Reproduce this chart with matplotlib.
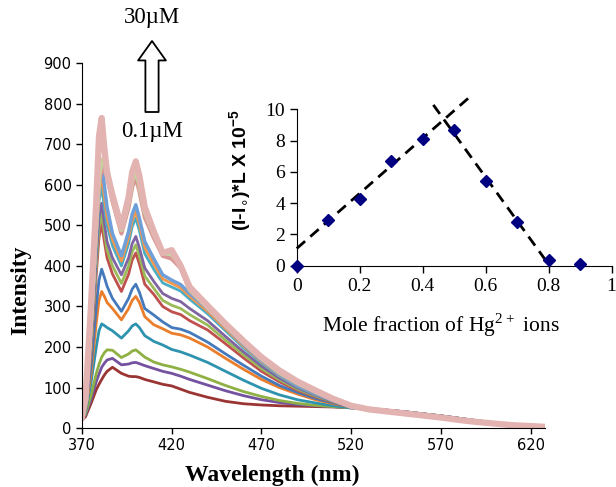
import numpy as np
import matplotlib
matplotlib.use('Agg')
import matplotlib.pyplot as plt

# emission spectra (bottom curve first)
wl = [370, 372, 375, 378, 379.5, 381, 382.5, 384, 387, 392,
      396, 398, 400, 402, 405, 410, 415, 420, 425, 430,
      440, 450, 460, 470, 480, 490, 500, 510, 520]
tail_wl = [530, 540, 550, 560, 570, 580, 590, 600, 610, 620, 628]
tail_low = [48, 44, 40, 35, 30, 24, 18, 13, 9, 6, 4]
tail_high = [46, 41, 36, 31, 26, 20, 15, 11, 7, 5, 3]

spec_01 = [20, 28, 60, 95, 108, 120, 131, 140, 150, 135,
           128, 127, 127, 125, 120, 114, 108, 104, 96, 88,
           76, 66, 60, 57, 55, 54, 53, 52, 50]
spec_02 = [22, 32, 70, 115, 133, 150, 160, 168, 172, 156,
           158, 161, 162, 159, 154, 147, 140, 135, 128, 120,
           106, 92, 80, 70, 63, 58, 55, 53, 50]
spec_03 = [22, 35, 80, 135, 157, 175, 186, 193, 192, 174,
           183, 190, 193, 186, 175, 163, 156, 151, 145, 138,
           122, 105, 90, 78, 68, 61, 56, 53, 50]
spec_04 = [24, 40, 110, 200, 240, 257, 253, 248, 240, 222,
           240, 252, 257, 248, 228, 214, 205, 194, 188, 180,
           162, 140, 118, 98, 82, 70, 62, 55, 50]
spec_05 = [25, 45, 130, 260, 315, 337, 325, 310, 295, 267,
           295, 315, 325, 310, 275, 255, 245, 234, 230, 222,
           200, 172, 145, 120, 100, 84, 70, 60, 52]
spec_06 = [25, 48, 150, 300, 365, 392, 372, 350, 320, 288,
           320, 343, 355, 335, 295, 279, 262, 248, 244, 236,
           212, 183, 155, 128, 105, 88, 73, 62, 52]
spec_07 = [26, 55, 180, 380, 470, 505, 460, 420, 380, 337,
           380, 415, 432, 405, 355, 330, 300, 287, 280, 265,
           242, 208, 173, 140, 114, 93, 77, 64, 53]
spec_08 = [26, 58, 190, 400, 495, 530, 482, 440, 400, 357,
           400, 435, 452, 425, 375, 345, 315, 303, 295, 280,
           254, 217, 181, 147, 119, 96, 79, 65, 53]
spec_09 = [27, 60, 200, 420, 518, 555, 505, 460, 420, 378,
           420, 455, 473, 445, 395, 362, 332, 320, 312, 295,
           265, 226, 188, 153, 123, 99, 81, 66, 53]
spec_10 = [27, 62, 220, 450, 560, 596, 545, 500, 450, 400,
           455, 497, 518, 487, 430, 392, 358, 348, 338, 318,
           282, 240, 198, 160, 128, 102, 83, 67, 54]
spec_11 = [28, 64, 230, 470, 582, 621, 568, 520, 465, 412,
           470, 512, 534, 502, 445, 405, 368, 357, 346, 325,
           288, 245, 202, 163, 130, 104, 84, 68, 54]
spec_12 = [28, 66, 240, 490, 612, 655, 598, 545, 480, 425,
           485, 528, 551, 518, 460, 418, 378, 365, 354, 332,
           294, 250, 206, 166, 132, 105, 85, 68, 54]
spec_13 = [28, 68, 260, 500, 600, 641, 635, 620, 560, 480,
           545, 595, 619, 585, 520, 470, 425, 418, 395, 340,
           296, 252, 210, 170, 136, 110, 89, 70, 54]
spec_14 = [28, 70, 270, 520, 625, 662, 655, 640, 570, 490,
           560, 612, 637, 603, 535, 480, 432, 430, 402, 343,
           298, 254, 212, 172, 138, 112, 91, 71, 55]
spec_15 = [28, 72, 300, 560, 720, 765, 690, 630, 575, 495,
           570, 632, 658, 622, 545, 485, 432, 439, 400, 348,
           302, 257, 215, 175, 142, 115, 93, 72, 55]

spectra = [spec_01, spec_02, spec_03, spec_04, spec_05, spec_06, spec_07, spec_08,
           spec_09, spec_10, spec_11, spec_12, spec_13, spec_14, spec_15]
colors = ['#9B3533', '#7452A0', '#8FB044', '#2E93AE', '#EB7E2C', '#4479BC',
          '#C0504D', '#9BBB59', '#8064A2', '#4BACC6', '#F79646', '#6E9FD8',
          '#D99694', '#C3D69B', '#E3B3B2']
widths = [2, 2, 2, 2, 2, 2, 2, 2, 2, 2, 2, 2.5, 3, 3.5, 4.5]

# Job plot (inset)
mole_frac = [0, 0.1, 0.2, 0.3, 0.4, 0.5, 0.6, 0.7, 0.8, 0.9]
job_val = [0, 2.9, 4.25, 6.7, 8.1, 8.7, 5.4, 2.8, 0.35, 0.12]
fit1_x = [0, 0.56]
fit1_y = [1.1, 10.97]
fit2_x = [0.434, 0.794]
fit2_y = [10.28, 0.26]

fig = plt.figure(figsize=(6.16, 4.87), dpi=100)
ax = fig.add_axes([0.133, 0.121, 0.752, 0.749])

for i, (s, c, w) in enumerate(zip(spectra, colors, widths)):
    tail = tail_low if i < 6 else tail_high
    ax.plot(wl + tail_wl, s + tail, color=c, lw=w, solid_joinstyle='round')

ax.set_xlim(370, 628)
ax.set_ylim(0, 900)
ax.set_xticks([370, 420, 470, 520, 570, 620])
ax.set_yticks(range(0, 901, 100))
for sp in ['top', 'right']:
    ax.spines[sp].set_visible(False)
ax.tick_params(direction='out', length=4, width=1, labelsize=10.5)
for lab in ax.get_xticklabels() + ax.get_yticklabels():
    lab.set_family(['Liberation Sans Narrow', 'DejaVu Sans'])
ax.set_xlabel('Wavelength (nm)', family='Liberation Serif', fontweight='bold', fontsize=17)
ax.set_ylabel('Intensity', family='Liberation Serif', fontweight='bold', fontsize=17)
ax.xaxis.set_label_coords(0.41, -0.10)
ax.yaxis.set_label_coords(-0.11, 0.378)

# concentration arrow
ax.annotate('', xy=(152, 446), xytext=(152, 375), xycoords='figure pixels',
            textcoords='figure pixels',
            arrowprops=dict(arrowstyle='simple,head_length=1.4,head_width=2.0,tail_width=0.95',
                            fc='white', ec='black', lw=1.3, shrinkA=0, shrinkB=0))
fig.text(152 / 616, 1 - 18 / 487, '30\u00b5M', family='Liberation Serif', fontsize=16.5,
         ha='center', va='center')
fig.text(152 / 616, 1 - 131 / 487, '0.1\u00b5M', family='Liberation Serif', fontsize=16.5,
         ha='center', va='center')

# inset
ins = fig.add_axes([0.4817, 0.4544, 0.511, 0.3212])
ins.patch.set_alpha(0)
ins.plot(fit1_x, fit1_y, color='black', lw=2, ls=(0, (4, 2.5)), clip_on=False)
ins.plot(fit2_x, fit2_y, color='black', lw=2, ls=(0, (4, 2.5)), clip_on=False)
ins.plot(mole_frac, job_val, ls='none', marker='D', ms=6, color='#000080', clip_on=False,
         zorder=5)
ins.set_xlim(0, 1)
ins.set_ylim(0, 10)
ins.set_xticks([0, 0.2, 0.4, 0.6, 0.8, 1])
ins.set_xticklabels(['0', '0.2', '0.4', '0.6', '0.8', '1'])
ins.set_yticks([0, 2, 4, 6, 8, 10])
for sp in ['top', 'right']:
    ins.spines[sp].set_visible(False)
ins.tick_params(direction='out', length=5, width=1, labelsize=14)
for lab in ins.get_xticklabels() + ins.get_yticklabels():
    lab.set_family('Liberation Serif')
ins.set_xlabel(r'Mole fraction of Hg$^{\mathregular{2+}}$ ions', family='Liberation Serif',
               fontsize=15.5)
ins.set_ylabel(r'(I-I$_{\circ}$)*L X 10$^{\mathregular{-5}}$', family='Liberation Sans',
               fontweight='bold', fontsize=14)
ins.xaxis.set_label_coords(0.458, -0.29)
ins.yaxis.set_label_coords(-0.135, 0.61)

fig.savefig('out.png', dpi=100)
